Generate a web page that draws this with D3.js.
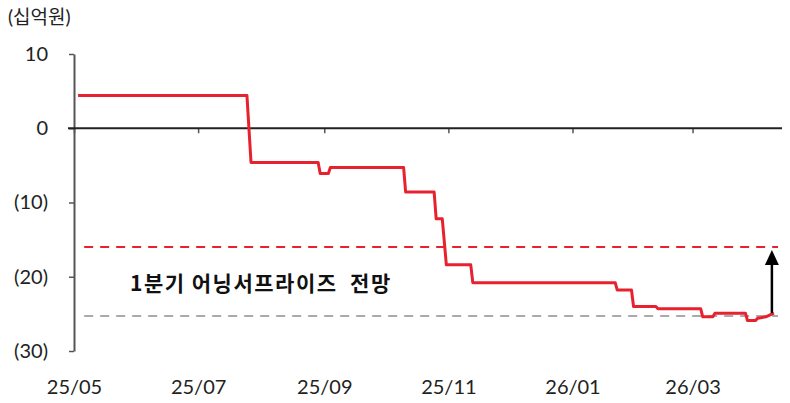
<!DOCTYPE html>
<html><head><meta charset="utf-8">
<script src="https://cdn.jsdelivr.net/npm/d3@7"></script>
<style>body{margin:0;background:#fff}</style>
</head><body>
<svg id="c" width="790" height="403"></svg>
<script>
// ---- data ----
const dates = ['2025-05-03','2025-07-25','2025-07-27','2025-08-29','2025-08-30','2025-09-03','2025-09-04',
  '2025-10-10','2025-10-11','2025-10-25','2025-10-26','2025-10-29','2025-10-31','2025-11-12','2025-11-13',
  '2026-01-22','2026-01-23','2026-01-30','2026-01-31','2026-02-11','2026-02-12','2026-03-05','2026-03-06',
  '2026-03-11','2026-03-12','2026-03-27','2026-03-28','2026-04-01','2026-04-02','2026-04-06','2026-04-10'];
const values = [4.4,4.4,-4.6,-4.6,-6.1,-6.1,-5.3,
  -5.3,-8.6,-8.6,-12.2,-12.2,-18.4,-18.4,-20.8,
  -20.8,-21.8,-21.8,-24.0,-24.0,-24.3,-24.3,-25.4,
  -25.4,-24.9,-24.9,-25.9,-25.9,-25.6,-25.4,-24.9];
const yTicks = [10, 0, -10, -20, -30];
const yTickLabels = ['10', '0', '(10)', '(20)', '(30)'];
const xTicks = ['2025-05-01','2025-07-01','2025-09-01','2025-11-01','2026-01-01','2026-03-01'];
const xTickLabels = ['25/05','25/07','25/09','25/11','26/01','26/03'];
const refDates = ['2025-05-06', '2026-04-12'];
const surpriseLevel = -16;
const consensusLevel = -25.3;
const arrowDate = '2026-04-09';
const arrowFrom = -24.9, arrowTo = -16.4;
const unitLabel = '(십억원)';
const annotation = '1분기 어닝서프라이즈  전망';

// ---- drawing ----
const P = d3.timeParse('%Y-%m-%d');
const svg = d3.select('#c');
const font = "Lato, 'Noto Sans CJK KR', sans-serif";
const x = d3.scaleTime().domain([P('2025-05-01'), P('2026-04-12')]).range([74, 778]);
const y = d3.scaleLinear().domain([-30, 10]).range([351, 54]);

svg.append('text').attr('x', 8).attr('y', 24).text(unitLabel)
  .attr('font-family', font).attr('font-size', 19).attr('fill', '#222');

// y axis
const ya = svg.append('g').attr('transform', 'translate(74,0)')
  .call(d3.axisLeft(y).tickValues(yTicks).tickFormat((d, i) => yTickLabels[i]).tickSize(5).tickSizeOuter(0).tickPadding(21));
ya.select('.domain').attr('stroke', '#555').attr('stroke-width', 2);
ya.selectAll('.tick line').attr('stroke', '#555').attr('stroke-width', 1.5);
ya.selectAll('.tick text').attr('font-family', font).attr('font-size', 20).attr('fill', '#222');

// zero line with ticks
const xa = svg.append('g').attr('transform', `translate(0,${y(0)})`)
  .call(d3.axisBottom(x).tickValues(xTicks.map(P)).tickFormat('').tickSize(5).tickSizeOuter(0));
xa.select('.domain').remove();
xa.selectAll('.tick line').attr('stroke', '#555').attr('stroke-width', 1.5);
svg.append('line').attr('x1', 68).attr('x2', 782).attr('y1', y(0)).attr('y2', y(0))
  .attr('stroke', '#222').attr('stroke-width', 2);

// x labels at bottom
const xl = svg.append('g').attr('transform', 'translate(0,380)')
  .call(d3.axisBottom(x).tickValues(xTicks.map(P)).tickFormat((d, i) => xTickLabels[i]).tickSize(0).tickPadding(0));
xl.select('.domain').remove();
xl.selectAll('.tick text').attr('font-family', font).attr('font-size', 20).attr('fill', '#222');

// reference dashed lines
svg.append('line').attr('x1', x(P(refDates[0]))).attr('x2', x(P(refDates[1])))
  .attr('y1', y(surpriseLevel)).attr('y2', y(surpriseLevel))
  .attr('stroke', '#e8212e').attr('stroke-width', 2).attr('stroke-dasharray', '9,7');
svg.append('line').attr('x1', x(P(refDates[0]))).attr('x2', x(P(refDates[1])))
  .attr('y1', y(consensusLevel)).attr('y2', y(consensusLevel))
  .attr('stroke', '#aaa').attr('stroke-width', 2).attr('stroke-dasharray', '9,7');

// main line
const pts = dates.map((d, i) => [P(d), values[i]]);
svg.append('path').datum(pts)
  .attr('d', d3.line().x(d => x(d[0])).y(d => y(d[1])))
  .attr('fill', 'none').attr('stroke', '#e8212e').attr('stroke-width', 3).attr('stroke-linejoin', 'round');

// arrow
const ax = x(P(arrowDate));
svg.append('line').attr('x1', ax).attr('x2', ax).attr('y1', y(arrowFrom)).attr('y2', y(arrowTo) + 12)
  .attr('stroke', '#000').attr('stroke-width', 2.5);
svg.append('path').attr('d', `M${ax},${y(arrowTo)} L${ax - 7},${y(arrowTo) + 15} L${ax + 7},${y(arrowTo) + 15} Z`)
  .attr('fill', '#000');

// annotation
svg.append('text').attr('x', 130).attr('y', 291).text(annotation)
  .attr('font-family', "'Noto Sans CJK KR', sans-serif").attr('font-weight', 700)
  .attr('font-size', 21).attr('letter-spacing', 1.5).attr('fill', '#111').style('white-space', 'pre');
</script>
</body></html>
